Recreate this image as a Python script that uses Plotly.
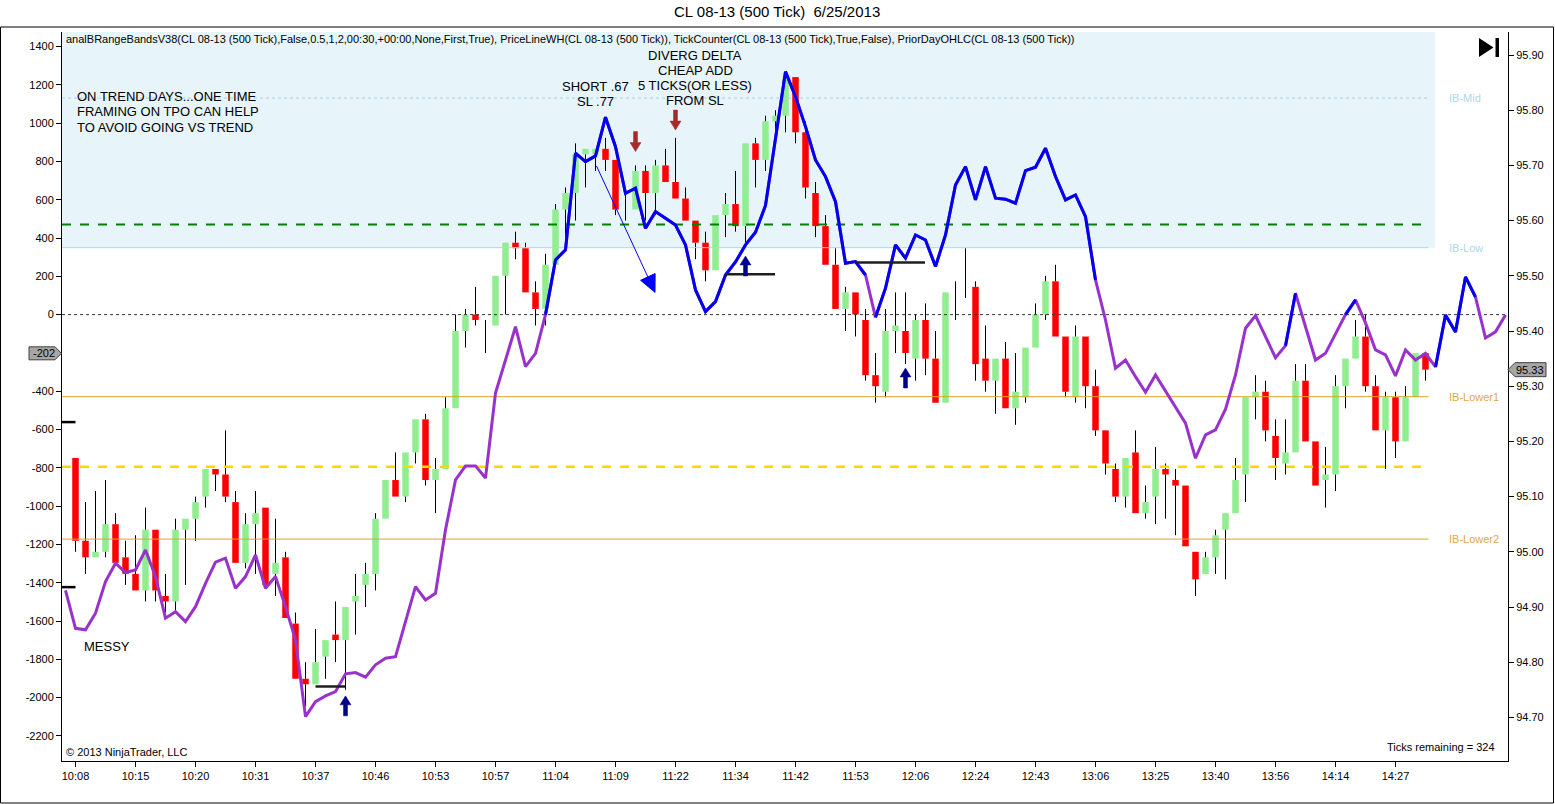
import plotly.graph_objects as go

# ---- values ----
time_labels = ["10:08", "10:15", "10:20", "10:31", "10:37", "10:46", "10:53", "10:57",
               "11:04", "11:09", "11:22", "11:34", "11:42", "11:53", "12:06", "12:24",
               "12:43", "13:06", "13:25", "13:40", "13:56", "14:14", "14:27"]
bars_per_label = 6

opens = [95.17, 95.02, 94.99, 95.00, 95.05, 94.99, 94.96, 94.93, 95.04, 94.92,
         94.91, 95.04, 95.06, 95.10, 95.15, 95.14, 95.09, 94.98, 95.05, 95.08,
         94.96, 94.99, 94.87, 94.77, 94.76, 94.81, 94.85, 94.84, 94.91, 94.94,
         94.96, 95.06, 95.13, 95.10, 95.18, 95.24, 95.13, 95.15, 95.26, 95.40,
         95.43, 95.42, 95.41, 95.50, 95.56, 95.55, 95.47, 95.44, 95.52, 95.62,
         95.65, 95.72, 95.72, 95.73, 95.71, 95.64, 95.62, 95.69, 95.65, 95.70,
         95.67, 95.64, 95.60, 95.56, 95.51, 95.61, 95.63, 95.59, 95.74, 95.71,
         95.78, 95.79, 95.86, 95.76, 95.65, 95.59, 95.52, 95.44, 95.47, 95.42,
         95.32, 95.29, 95.40, 95.40, 95.35, 95.42, 95.35, 95.27, 95.46, 95.46,
         95.48, 95.35, 95.31, 95.35, 95.26, 95.28, 95.37, 95.43, 95.49, 95.39,
         95.28, 95.39, 95.30, 95.22, 95.15, 95.10, 95.18, 95.07, 95.10, 95.15,
         95.13, 95.12, 95.00, 94.96, 94.99, 95.04, 95.07, 95.14, 95.28, 95.29,
         95.21, 95.16, 95.18, 95.31, 95.20, 95.13, 95.14, 95.30, 95.35, 95.39,
         95.30, 95.22, 95.28, 95.20, 95.28, 95.36]
highs = [95.17, 95.09, 95.11, 95.13, 95.07, 95.02, 95.03, 95.08, 95.04, 94.96,
         95.06, 95.06, 95.10, 95.15, 95.15, 95.22, 95.11, 95.07, 95.11, 95.08,
         95.06, 95.00, 94.89, 94.80, 94.86, 94.84, 94.91, 94.90, 94.96, 94.98,
         95.07, 95.13, 95.18, 95.18, 95.24, 95.25, 95.17, 95.28, 95.43, 95.44,
         95.48, 95.42, 95.50, 95.56, 95.58, 95.56, 95.49, 95.54, 95.63, 95.66,
         95.74, 95.73, 95.73, 95.75, 95.71, 95.65, 95.70, 95.70, 95.71, 95.73,
         95.75, 95.66, 95.60, 95.58, 95.61, 95.65, 95.69, 95.74, 95.75, 95.79,
         95.80, 95.86, 95.86, 95.78, 95.67, 95.61, 95.55, 95.48, 95.47, 95.44,
         95.36, 95.44, 95.47, 95.47, 95.43, 95.45, 95.40, 95.47, 95.49, 95.55,
         95.49, 95.41, 95.35, 95.38, 95.36, 95.37, 95.45, 95.50, 95.52, 95.39,
         95.41, 95.39, 95.33, 95.22, 95.16, 95.17, 95.22, 95.12, 95.19, 95.16,
         95.15, 95.12, 95.00, 95.00, 95.04, 95.07, 95.17, 95.28, 95.32, 95.31,
         95.24, 95.24, 95.34, 95.34, 95.20, 95.19, 95.32, 95.35, 95.42, 95.43,
         95.32, 95.29, 95.29, 95.30, 95.36, 95.36]
lows = [95.00, 94.96, 94.99, 94.99, 94.98, 94.94, 94.93, 94.91, 94.91, 94.89,
        94.89, 94.94, 95.02, 95.08, 95.11, 95.09, 94.98, 94.97, 94.96, 94.94,
        94.92, 94.88, 94.77, 94.72, 94.76, 94.77, 94.80, 94.75, 94.85, 94.90,
        94.93, 95.06, 95.10, 95.09, 95.16, 95.12, 95.07, 95.15, 95.26, 95.37,
        95.41, 95.36, 95.41, 95.43, 95.53, 95.47, 95.41, 95.41, 95.52, 95.57,
        95.60, 95.66, 95.69, 95.69, 95.61, 95.60, 95.62, 95.60, 95.61, 95.67,
        95.64, 95.60, 95.53, 95.49, 95.51, 95.57, 95.58, 95.56, 95.66, 95.69,
        95.76, 95.76, 95.74, 95.64, 95.57, 95.52, 95.44, 95.40, 95.39, 95.31,
        95.27, 95.28, 95.36, 95.34, 95.31, 95.32, 95.27, 95.27, 95.42, 95.46,
        95.31, 95.29, 95.25, 95.26, 95.23, 95.27, 95.37, 95.42, 95.39, 95.28,
        95.27, 95.26, 95.21, 95.14, 95.09, 95.08, 95.07, 95.06, 95.05, 95.06,
        95.03, 95.01, 94.92, 94.96, 94.96, 94.95, 95.07, 95.09, 95.24, 95.20,
        95.13, 95.14, 95.18, 95.20, 95.12, 95.08, 95.11, 95.26, 95.35, 95.29,
        95.22, 95.15, 95.17, 95.20, 95.28, 95.31]
closes = [95.02, 94.99, 95.00, 95.05, 94.98, 94.96, 94.93, 95.04, 94.93, 94.91,
          95.04, 95.06, 95.09, 95.15, 95.14, 95.10, 94.98, 95.05, 95.07, 94.94,
          94.98, 94.88, 94.77, 94.76, 94.80, 94.84, 94.84, 94.90, 94.92, 94.96,
          95.06, 95.13, 95.10, 95.18, 95.24, 95.13, 95.15, 95.26, 95.40, 95.43,
          95.42, 95.42, 95.50, 95.56, 95.55, 95.47, 95.44, 95.52, 95.62, 95.65,
          95.72, 95.73, 95.73, 95.71, 95.62, 95.64, 95.69, 95.65, 95.70, 95.67,
          95.64, 95.60, 95.56, 95.51, 95.61, 95.63, 95.59, 95.74, 95.71, 95.78,
          95.79, 95.86, 95.76, 95.66, 95.59, 95.52, 95.44, 95.47, 95.43, 95.32,
          95.30, 95.40, 95.41, 95.36, 95.42, 95.35, 95.27, 95.47, 95.46, 95.46,
          95.34, 95.31, 95.35, 95.26, 95.29, 95.37, 95.43, 95.49, 95.39, 95.29,
          95.39, 95.30, 95.22, 95.16, 95.10, 95.17, 95.07, 95.09, 95.15, 95.14,
          95.12, 95.01, 94.95, 94.99, 95.03, 95.07, 95.13, 95.28, 95.29, 95.22,
          95.17, 95.18, 95.31, 95.20, 95.12, 95.14, 95.30, 95.35, 95.39, 95.30,
          95.22, 95.28, 95.20, 95.28, 95.36, 95.33]

# cumulative delta, one value per bar starting one bar before the first candle
delta_first_bar = -1
delta = [-1440, -1638, -1646, -1559, -1394, -1298, -1347, -1333, -1229, -1368,
         -1585, -1551, -1603, -1525, -1403, -1293, -1272, -1429, -1368, -1255,
         -1429, -1368, -1525, -1699, -2099, -2021, -1991, -1969, -1876, -1869,
         -1893, -1829, -1794, -1786, -1603, -1420, -1490, -1455, -1124, -863,
         -790, -790, -853, -410, -237, -63, -272, -202, 0, 286,
         338, 843, 799, 829, 1031, 877, 634, 660, 451, 538,
         503, 468, 364, 129, 16, 68, 207, 275, 364, 430,
         570, 912, 1269, 1138, 982, 808, 721, 590, 268, 277,
         207, -14, 138, 364, 295, 416, 390, 251, 416, 677,
         773, 599, 773, 608, 603, 582, 752, 770, 869, 721,
         599, 625, 512, 181, -28, -280, -237, -324, -405, -315,
         -398, -485, -567, -750, -628, -602, -494, -315, -71, -5,
         -115, -225, -162, 112, -63, -237, -202, -105, 0, 77,
         -43, -184, -210, -320, -184, -237, -202, -273, -2, -90,
         197, 92, -122, -90, -2]
# bar ranges where the delta line is in its "blue" state
blue_spans = [(47, 79), (80, 102), (121, 122), (127, 128), (136, 140)]

ib_mid = 95.822
ib_low = 95.551
ib_lower1 = 95.281
ib_lower2 = 95.023
green_level = 95.593
yellow_level = 95.154
prior_marks = [95.235, 94.936]

# hand drawn objects: (price, first bar, last bar) / (bar, tip price)
drawn_lines = [(95.707, 50.95, 57.95), (95.503, 64.95, 69.95),
               (95.524, 77.95, 84.95), (94.756, 24.0, 27.0)]
down_arrows = [(56, 95.725), (60, 95.764)]
up_arrows = [(67, 95.536), (83, 95.333), (27, 94.739)]
trend_arrow = [(52.1, 95.699), (57.95, 95.47)]

last_price = 95.33
last_delta = -202
ticks_remaining = 324

# ---- geometry ----
W, H = 1555, 804
ML, MR, MT, MB = 62, 47, 32, 43
PW, PH = W - ML - MR, H - MT - MB
X_RANGE = [-1.35, 143.25]
PRICE_RANGE = [94.621, 95.9417]
DELTA_RANGE = [-2331, 1476]
XPX = (X_RANGE[1] - X_RANGE[0]) / PW
YPX = (PRICE_RANGE[1] - PRICE_RANGE[0]) / PH
LEVEL_END = 135.3
FONT = "Liberation Sans, Arial, sans-serif"


def P(x, y):
    # pixel position -> paper coords
    return (x - ML) / PW, (MT + PH - y) / PH


n = len(opens)
bars = list(range(n))

fig = go.Figure()

# shaded initial balance region
fig.add_shape(type="rect", xref="x", yref="y", x0=X_RANGE[0], x1=135.95,
              y0=ib_low, y1=PRICE_RANGE[1], fillcolor="#E7F5FA",
              line=dict(width=0), layer="below")

# candle bodies
body_base = [min(o, c) for o, c in zip(opens, closes)]
body_h = [abs(c - o) for o, c in zip(opens, closes)]
body_col = ["#90EE90" if c >= o else "#FF0000" for o, c in zip(opens, closes)]
fig.add_trace(go.Bar(x=bars, base=body_base, y=body_h, width=0.65,
                     marker=dict(color=body_col, line=dict(width=0)),
                     yaxis="y", hoverinfo="skip"))

# wicks (drawn outside the body only)
wx, wy = [], []
for i in bars:
    top = max(opens[i], closes[i])
    bot = min(opens[i], closes[i])
    if highs[i] > top:
        wx += [i, i, None]
        wy += [highs[i], top, None]
    if lows[i] < bot:
        wx += [i, i, None]
        wy += [bot, lows[i], None]
fig.add_trace(go.Scatter(x=wx, y=wy, mode="lines", line=dict(color="black", width=1),
                         yaxis="y", hoverinfo="skip"))

# price levels
levels = [
    (ib_mid, "#A9D2E3", 1, "dot"),
    (ib_low, "#ADD8E6", 1, "solid"),
    (green_level, "#008000", 2, "dash"),
    (ib_lower1, "#DAA520", 1, "solid"),
    (yellow_level, "#FFD700", 2.5, "dash"),
    (ib_lower2, "#DAA520", 1, "solid"),
]
for lv, col, lw, dash in levels:
    fig.add_trace(go.Scatter(x=[X_RANGE[0], LEVEL_END], y=[lv, lv], mode="lines",
                             line=dict(color=col, width=lw, dash=dash),
                             yaxis="y", hoverinfo="skip"))

# prior day marks at the left edge
for pm in prior_marks:
    fig.add_trace(go.Scatter(x=[X_RANGE[0], 0], y=[pm, pm], mode="lines",
                             line=dict(color="black", width=2.5),
                             yaxis="y", hoverinfo="skip"))

# zero line of delta
fig.add_trace(go.Scatter(x=X_RANGE, y=[0, 0], mode="lines",
                         line=dict(color="#333333", width=1, dash="dot"),
                         yaxis="y2", hoverinfo="skip"))

# delta line: purple everywhere, blue spans on top
dx = [delta_first_bar + k for k in range(len(delta))]
fig.add_trace(go.Scatter(x=dx, y=delta, mode="lines",
                         line=dict(color="#9932CC", width=3), yaxis="y2", hoverinfo="skip"))
bx, by = [], []
for a, b in blue_spans:
    for k in range(a, b + 1):
        bx.append(k)
        by.append(delta[k - delta_first_bar])
    bx.append(None)
    by.append(None)
fig.add_trace(go.Scatter(x=bx, y=by, mode="lines",
                         line=dict(color="#0000F0", width=3), yaxis="y2", hoverinfo="skip"))

shapes = []

# drawn black lines
for pr, a, b in drawn_lines:
    shapes.append(dict(type="line", xref="x", yref="y", x0=a, x1=b, y0=pr, y1=pr,
                       line=dict(color="#1E1E1E", width=2.5), layer="above"))


def block_arrow(bar, tip, up, color):
    pts = [(0, 0), (-5.5, 9), (-2, 9), (-2, 20), (2, 20), (2, 9), (5.5, 9)]
    s = -1 if up else 1
    coords = [f"{bar + px * XPX:.4f},{tip + s * py * YPX:.5f}" for px, py in pts]
    return dict(type="path", xref="x", yref="y", path="M " + " L ".join(coords) + " Z",
                fillcolor=color, line=dict(color=color, width=0.5), layer="above")


for b, t in down_arrows:
    shapes.append(block_arrow(b, t, False, "#A52A2A"))
for b, t in up_arrows:
    shapes.append(block_arrow(b, t, True, "#00008B"))

# thin blue trend arrow
(x0, y0), (x1, y1) = trend_arrow
dxp, dyp = (x1 - x0) / XPX, (y1 - y0) / YPX
ln = (dxp ** 2 + dyp ** 2) ** 0.5
ux, uy = dxp / ln, dyp / ln
bcx, bcy = x1 - 17 * ux * XPX, y1 - 17 * uy * YPX
c1 = (bcx - 8 * uy * XPX, bcy + 8 * ux * YPX)
c2 = (bcx + 8 * uy * XPX, bcy - 8 * ux * YPX)
shapes.append(dict(type="line", xref="x", yref="y", x0=x0, y0=y0, x1=bcx, y1=bcy,
                   line=dict(color="#0000FF", width=1), layer="above"))
shapes.append(dict(type="path", xref="x", yref="y",
                   path=f"M {x1},{y1} L {c1[0]},{c1[1]} L {c2[0]},{c2[1]} Z",
                   fillcolor="#0000FF", line=dict(color="#0000FF", width=1), layer="above"))

# outer frame
fx0, fy0 = P(0.5, 803)
fx1, fy1 = P(1553.5, 27)
shapes.append(dict(type="rect", xref="paper", yref="paper", x0=fx0, y0=fy0, x1=fx1, y1=fy1,
                   line=dict(color="black", width=1), layer="above"))

# "go to end" glyph
t1, t2, t3 = P(1479, 38), P(1479, 57), P(1493.5, 47.5)
shapes.append(dict(type="path", xref="paper", yref="paper",
                   path=f"M {t1[0]},{t1[1]} L {t2[0]},{t2[1]} L {t3[0]},{t3[1]} Z",
                   fillcolor="black", line=dict(width=0), layer="above"))
r0, r1 = P(1495.5, 57), P(1499, 38)
shapes.append(dict(type="rect", xref="paper", yref="paper", x0=r0[0], y0=r0[1], x1=r1[0], y1=r1[1],
                   fillcolor="black", line=dict(width=0), layer="above"))


def tag(points):
    pp = [P(x, y) for x, y in points]
    return dict(type="path", xref="paper", yref="paper",
                path="M " + " L ".join(f"{a:.5f},{b:.5f}" for a, b in pp) + " Z",
                fillcolor="#A6A6A6", line=dict(color="#404040", width=1), layer="above")


price_y = MT + (PRICE_RANGE[1] - last_price) / YPX
delta_y = MT + (DELTA_RANGE[1] - last_delta) / ((DELTA_RANGE[1] - DELTA_RANGE[0]) / PH)
shapes.append(tag([(1508, price_y), (1515, price_y - 7), (1546, price_y - 7),
                   (1546, price_y + 7), (1515, price_y + 7)]))
shapes.append(tag([(29, delta_y - 6.5), (55, delta_y - 6.5), (61.5, delta_y),
                   (55, delta_y + 6.5), (29, delta_y + 6.5)]))

ann = []


def text(x, y, s, size=13, anchor="center", color="black"):
    px_, py_ = P(x, y)
    ann.append(dict(x=px_, y=py_, xref="paper", yref="paper", text=s, showarrow=False,
                    xanchor=anchor, yanchor="middle", font=dict(family=FONT, size=size, color=color)))


text(777, 12, "CL 08-13 (500 Tick)\u00a0\u00a06/25/2013", size=15)
text(64, 39, "analBRangeBandsV38(CL 08-13 (500 Tick),False,0.5,1,2,00:30,+00:00,None,First,True), "
     "PriceLineWH(CL 08-13 (500 Tick)), TickCounter(CL 08-13 (500 Tick),True,False), "
     "PriorDayOHLC(CL 08-13 (500 Tick))", size=11, anchor="left")
for k, s in enumerate(["ON TREND DAYS...ONE TIME", "FRAMING ON TPO CAN HELP", "TO AVOID GOING VS TREND"]):
    text(75, 97 + 15 * k, s, anchor="left")
for k, s in enumerate(["SHORT .67", "SL .77"]):
    text(595, 87 + 15 * k, s)
for k, s in enumerate(["DIVERG DELTA", "CHEAP ADD", "5 TICKS(OR LESS)", "FROM SL"]):
    text(695, 55 + 15.2 * k, s)
text(82, 646, "MESSY", anchor="left")
text(64, 751.5, "\u00a9 2013 NinjaTrader, LLC", size=11, anchor="left")
text(1497, 746.5, f"Ticks remaining = {ticks_remaining}", size=11, anchor="right")

ib_labels = [(ib_mid, "IB-Mid", "#ADD8E6"), (ib_low, "IB-Low", "#ADD8E6"),
             (ib_lower1, "IB-Lower1", "#E3A73F"), (ib_lower2, "IB-Lower2", "#E3A73F")]
for lv, s, col in ib_labels:
    text(1447, MT + (PRICE_RANGE[1] - lv) / YPX, s, size=11, anchor="left", color=col)

text(1530, price_y, f"{last_price:.2f}", size=11)
text(44, delta_y, f"{last_delta}", size=11)

# left axis: the last-delta tag covers the -200 label, as on the original
delta_ticks = list(range(-2200, 1401, 200))
delta_text = ["" if v == -200 else str(v) for v in delta_ticks]

fig.update_layout(
    width=W, height=H,
    margin=dict(l=ML, r=MR, t=MT, b=MB),
    paper_bgcolor="white", plot_bgcolor="white",
    showlegend=False,
    font=dict(family=FONT, size=11, color="black"),
    shapes=shapes, annotations=ann,
    xaxis=dict(range=X_RANGE, tickmode="array",
               tickvals=[k * bars_per_label for k in range(len(time_labels))],
               ticktext=time_labels, ticks="outside", ticklen=5, tickcolor="black",
               showline=True, linecolor="black", linewidth=1, showgrid=False, zeroline=False),
    yaxis=dict(range=PRICE_RANGE, side="right", tickmode="array",
               tickvals=[round(94.7 + 0.1 * k, 2) for k in range(13)], tickformat=".2f",
               ticks="outside", ticklen=5, tickcolor="black",
               showline=True, linecolor="black", linewidth=1, showgrid=False, zeroline=False),
    yaxis2=dict(range=DELTA_RANGE, overlaying="y", side="left", tickmode="array",
                tickvals=delta_ticks, ticktext=delta_text,
                ticks="outside", ticklen=5, tickcolor="black",
                showline=True, linecolor="black", linewidth=1, showgrid=False, zeroline=False),
)

fig.write_html("out.html", config={"displayModeBar": False},
               post_script="document.body.style.margin='0';document.body.style.overflow='hidden';")
